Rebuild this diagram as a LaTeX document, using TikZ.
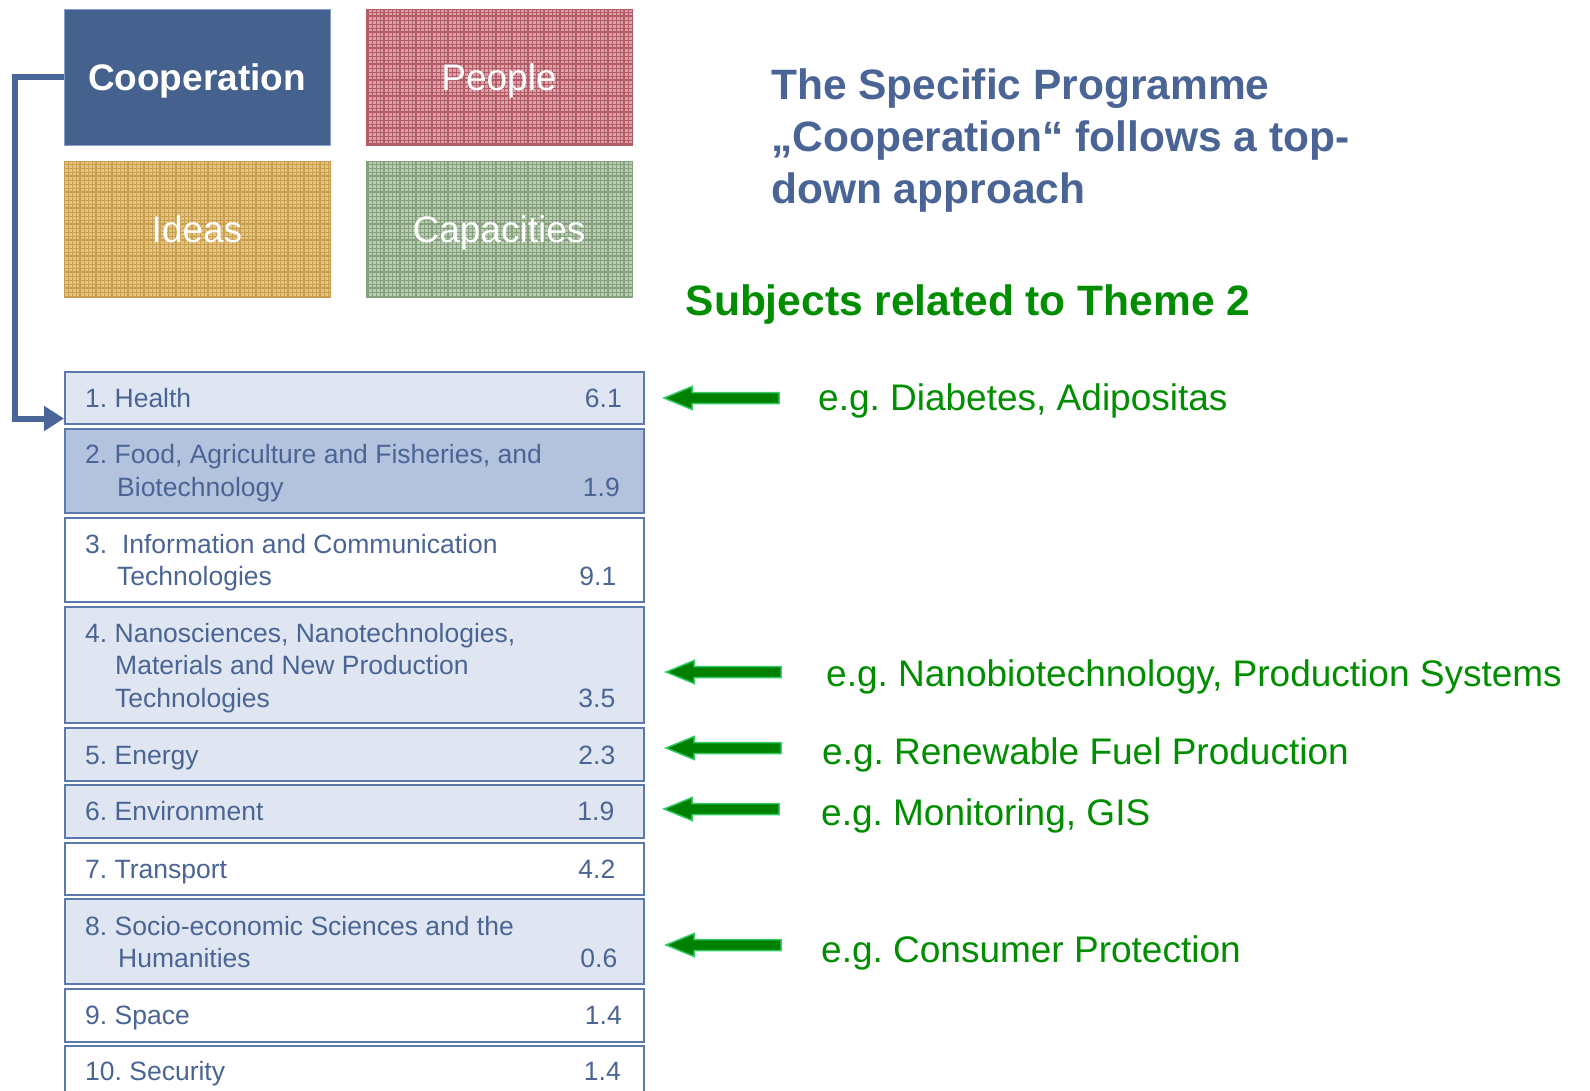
\documentclass[tikz,border=0pt]{standalone}
\usepackage{fontspec}
\setmainfont{Liberation Sans}
\usetikzlibrary{arrows.meta}
\frenchspacing
\definecolor{coopfill}{HTML}{45628F}
\definecolor{coopborder}{HTML}{8AA2CB}
\definecolor{txtblue}{HTML}{4A6595}
\definecolor{titleblue}{HTML}{4A6496}
\definecolor{boxline}{HTML}{5B79AB}
\definecolor{lightfill}{HTML}{DFE6F1}
\definecolor{midfill}{HTML}{B3C3DD}
\definecolor{gtxt}{HTML}{008E00}
\definecolor{garrfill}{HTML}{008000}
\definecolor{garrline}{HTML}{33CC66}
\definecolor{connblue}{HTML}{4A6597}
\definecolor{peoplebg}{HTML}{D9A3A9}
\definecolor{peopleln}{HTML}{B35C68}
\definecolor{ideasbg}{HTML}{E2C489}
\definecolor{ideasln}{HTML}{C99E4C}
\definecolor{capbg}{HTML}{BCCCB4}
\definecolor{capln}{HTML}{84A07C}
\newcommand\texfill[5]{%
  \begin{scope}
    \clip (#1,#2) rectangle (#3,#4);
    \fill[#5bg] (#1,#2) rectangle (#3,#4);
    \draw[#5ln, line width=0.6pt, step=4pt] (#1,#2) grid (#3,#4);
    \draw[#5ln, line width=1.4pt, step=16pt] (#1,#2) grid (#3,#4);
  \end{scope}}
\newcommand\greenarrow[3]{%
  \coordinate (#1) at (#2,#3);
  \draw[garrst] (#1) -- ++(28,-11.5) -- ++(0,6) -- ++(87,0) -- ++(0,11) -- ++(-87,0) -- ++(0,6) -- cycle;}
\tikzset{
  bigbox/.style={minimum width=266pt, minimum height=136pt, inner sep=0pt, text=white,
    text height=26.6pt, text depth=0pt, font=\fontsize{37}{44}\selectfont},
  listbox/.style={draw=boxline, line width=1.5pt, minimum width=579pt, anchor=north west, inner sep=0pt},
  lt/.style={anchor=base west, inner sep=0pt, text=txtblue, font=\fontsize{26.5}{32}\selectfont},
  lnum/.style={anchor=base east, inner sep=0pt, text=txtblue, font=\fontsize{26.5}{32}\selectfont},
  titl/.style={anchor=base west, inner sep=0pt, text=titleblue, font=\fontsize{42.5}{52}\selectfont\bfseries},
  gt/.style={anchor=base west, inner sep=0pt, text=gtxt, font=\fontsize{37}{44}\selectfont},
  garrst/.style={fill=garrfill, draw=garrline, line width=1.5pt, line join=miter},
  conn/.style={draw=connblue, line width=6pt, -{Triangle[length=20pt,width=24pt]}}
}
\begin{document}
\begin{tikzpicture}[x=1pt,y=-1pt]
\clip (0,0) rectangle (1590,1091);
\fill[white] (0,0) rectangle (1590,1091);
% top boxes
\node[bigbox, fill=coopfill, draw=coopborder, line width=1pt, font=\fontsize{37}{44}\selectfont\bfseries] (coop) at (197,77.5) {Cooperation};
\texfill{366}{9.5}{632}{145.5}{people}
\node[bigbox, draw=peopleln, line width=1pt] (people) at (499,77.5) {People};
\texfill{64}{161.5}{330}{297.5}{ideas}
\node[bigbox, draw=ideasln, line width=1pt] (ideas) at (197,229.5) {Ideas};
\texfill{366}{161.5}{632}{297.5}{cap}
\node[bigbox, draw=capln, line width=1pt] (cap) at (499,229.5) {Capacities};
% list
\node[listbox, fill=lightfill, minimum height=52pt] (t1) at (64,371) {};
\node[listbox, fill=midfill, minimum height=84pt] (t2) at (64,428) {};
\node[listbox, fill=white, minimum height=84pt] (t3) at (64,517) {};
\node[listbox, fill=lightfill, minimum height=116pt] (t4) at (64,606) {};
\node[listbox, fill=lightfill, minimum height=53pt] (t5) at (64,727) {};
\node[listbox, fill=lightfill, minimum height=53pt] (t6) at (64,784) {};
\node[listbox, fill=white, minimum height=52pt] (t7) at (64,842) {};
\node[listbox, fill=lightfill, minimum height=85pt] (t8) at (64,898) {};
\node[listbox, fill=white, minimum height=53pt] (t9) at (64,988) {};
\node[listbox, fill=white, minimum height=70pt] (t10) at (64,1045) {};
\node[lt] (l1) at (85,407) {1. Health};
\node[lnum] (n1) at (622,407) {6.1};
\node[lt] (l2a) at (85,463.5) {2. Food, Agriculture and Fisheries, and};
\node[lt] (l2b) at (117,496.5) {Biotechnology};
\node[lnum] (n2) at (620,496.5) {1.9};
\node[lt] (l3a) at (85,553) {3.\ \ Information and Communication};
\node[lt] (l3b) at (117,585.5) {Technologies};
\node[lnum] (n3) at (616.5,585.5) {9.1};
\node[lt] (l4a) at (85,642.5) {4. Nanosciences, Nanotechnologies,};
\node[lt] (l4b) at (115,674.5) {Materials and New Production};
\node[lt] (l4c) at (115,707.5) {Technologies};
\node[lnum] (n4) at (615.5,707.5) {3.5};
\node[lt] (l5) at (85,764) {5. Energy};
\node[lnum] (n5) at (615.5,764) {2.3};
\node[lt] (l6) at (85,820.5) {6. Environment};
\node[lnum] (n6) at (614.5,820.5) {1.9};
\node[lt] (l7) at (85,878.5) {7. Transport};
\node[lnum] (n7) at (615.5,878.5) {4.2};
\node[lt] (l8a) at (85,935.5) {8. Socio-economic Sciences and the};
\node[lt] (l8b) at (118,967.5) {Humanities};
\node[lnum] (n8) at (617.5,967.5) {0.6};
\node[lt] (l9) at (85,1024.5) {9. Space};
\node[lnum] (n9) at (622,1024.5) {1.4};
\node[lt] (l10) at (85,1080.5) {10. Security};
\node[lnum] (n10) at (621,1080.5) {1.4};
% connector
\draw[conn] (coop.west) -- ++(-49,0) |- ([yshift=6pt]t1.south west);
% title
\node[titl] (ti1) at (771,100) {The Specific Programme};
\node[titl] (ti2) at (771,152) {„Cooperation“ follows a top-};
\node[titl] (ti3) at (771,203.5) {down approach};
\node[titl, text=gtxt] (sub) at (685.5,316) {Subjects related to Theme 2};
% green arrows and labels
\greenarrow{a1}{664}{398}
\greenarrow{a4}{666}{672}
\greenarrow{a5}{666}{748}
\greenarrow{a6}{664}{809}
\greenarrow{a8}{666}{945}
\node[gt] (g1) at (818,410.5) {e.g. Diabetes, Adipositas};
\node[gt] (g4) at (826,686) {e.g. Nanobiotechnology, Production Systems};
\node[gt] (g5) at (822,764) {e.g. Renewable Fuel Production};
\node[gt] (g6) at (821,825) {e.g. Monitoring, GIS};
\node[gt] (g8) at (821,962) {e.g. Consumer Protection};
\end{tikzpicture}
\end{document}
